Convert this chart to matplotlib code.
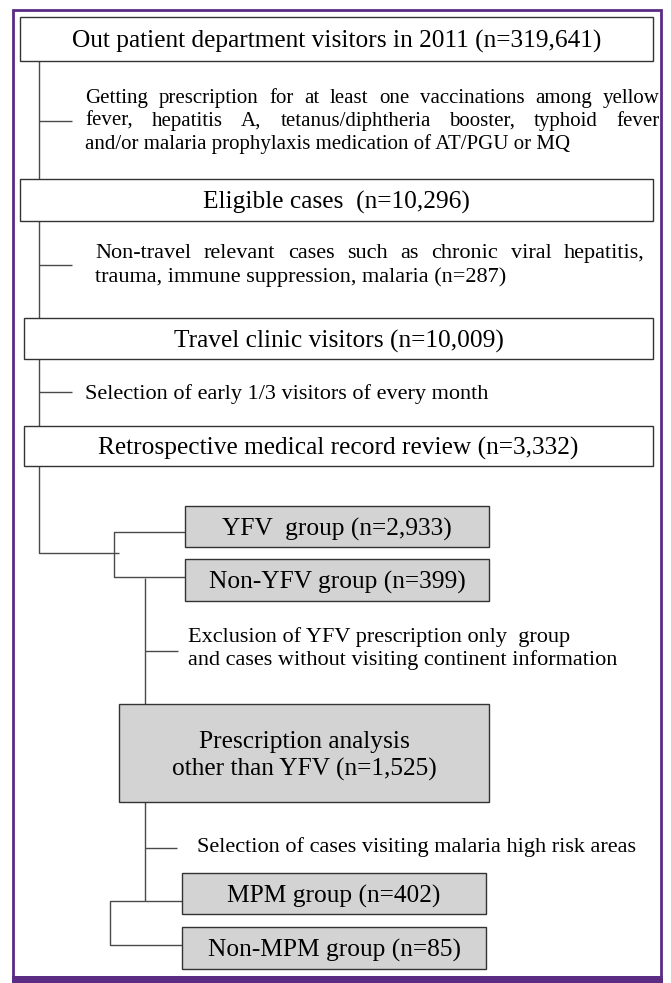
import numpy as np
import matplotlib
matplotlib.use('Agg')
import matplotlib.pyplot as plt
from matplotlib.patches import Rectangle

plt.rcParams['font.family'] = ['Liberation Serif', 'DejaVu Serif']

# ---- flowchart content ----
main_labels = ['Out patient department visitors in 2011 (n=319,641)',
               'Eligible cases  (n=10,296)',
               'Travel clinic visitors (n=10,009)',
               'Retrospective medical record review (n=3,332)']
yfv_labels = ['YFV  group (n=2,933)', 'Non-YFV group (n=399)']
analysis_label = ['Prescription analysis', 'other than YFV (n=1,525)']
mpm_labels = ['MPM group (n=402)', 'Non-MPM group (n=85)']

note1 = ['Getting prescription for at least one vaccinations among yellow',
         'fever, hepatitis A, tetanus/diphtheria booster, typhoid fever',
         'and/or malaria prophylaxis medication of AT/PGU or MQ']
note2 = ['Non-travel relevant cases such as chronic viral hepatitis,',
         'trauma, immune suppression, malaria (n=287)']
note3 = ['Selection of early 1/3 visitors of every month']
note4 = ['Exclusion of YFV prescription only  group',
         'and cases without visiting continent information']
note5 = ['Selection of cases visiting malaria high risk areas']

W, H = 671, 983
fig = plt.figure(figsize=(W/100, H/100), dpi=100)
ax = fig.add_axes([0, 0, 1, 1])
ax.set_xlim(0, W)
ax.set_ylim(H, 0)
ax.axis('off')
r = fig.canvas.get_renderer()

line_c = '#4a4a4a'
edge_c = '#333333'
gray = '#d3d3d3'
purple = '#5b2c83'
box_fs = 18.3


def box(x0, y0, x1, y1, lines, fill='white', cx=None):
    ax.add_patch(Rectangle((x0, y0), x1-x0, y1-y0, fc=fill, ec=edge_c, lw=1.0, zorder=2))
    cx = (x0+x1)/2 if cx is None else cx
    n = len(lines)
    step = 27
    for i, s in enumerate(lines):
        yy = (y0+y1)/2 + (i - (n-1)/2)*step
        ax.text(cx, yy, s, ha='center', va='center_baseline', fontsize=box_fs, zorder=3)


def seg(xs, ys):
    ax.plot(xs, ys, color=line_c, lw=1.0, solid_capstyle='butt', zorder=1)


def note(lines, x0, x1, y0, step, fs=16, justify=True):
    sp = ax.text(0, 0, 'a a', fontsize=fs)
    sp_w = sp.get_window_extent(r).width
    sp.set_text('aa')
    sp_w -= sp.get_window_extent(r).width
    sp.remove()
    for i, s in enumerate(lines):
        yy = y0 + i*step
        last = (i == len(lines)-1)
        if not justify or last:
            ax.text(x0, yy, s, ha='left', va='center_baseline', fontsize=fs)
            continue
        words = s.split()
        ts = [ax.text(0, yy, w, ha='left', va='center_baseline', fontsize=fs) for w in words]
        ws = [t.get_window_extent(r).width for t in ts]
        gap = max((x1 - x0 - sum(ws)) / (len(words)-1), sp_w * 0.8)
        x = x0
        for t, w in zip(ts, ws):
            t.set_x(x)
            x += w + gap


# purple frame
ax.add_patch(Rectangle((13, 10), 648, 968, fc='none', ec=purple, lw=2.0, zorder=5))
ax.add_patch(Rectangle((11.5, 975.5), 651, 8, fc=purple, ec='none', zorder=5))

# main column
main_rects = [(20, 17, 653, 61), (20, 179, 653, 221), (24, 318, 653, 359), (24, 426, 653, 466)]
for (x0, y0, x1, y1), lab in zip(main_rects, main_labels):
    box(x0, y0, x1, y1, [lab])

seg([39, 39], [61, 179]); seg([39, 72], [121, 121])
seg([39, 39], [221, 318]); seg([39, 72], [265, 265])
seg([39, 39], [359, 426]); seg([39, 72], [392, 392])
seg([39, 39, 119], [466, 553, 553])

note(note1, 85, 660, 96, 23, fs=15)
note(note2, 95, 645, 251, 24)
note(note3, 85, 660, 392, 0, justify=False)

# YFV split
seg([185, 114, 114, 185], [532, 532, 577, 577])
box(185, 506, 489, 547, [yfv_labels[0]], fill=gray)
box(185, 559, 489, 601, [yfv_labels[1]], fill=gray)

seg([145, 145], [578, 704]); seg([145, 178], [651, 651])
note(note4, 188, 660, 635, 23, justify=False)

box(119, 704, 489, 802, analysis_label, fill=gray)

seg([145, 145], [802, 901]); seg([145, 177], [848, 848])
note(note5, 197, 660, 845, 0, justify=False)

# MPM split
seg([182, 110, 110, 182], [901, 901, 945, 945])
box(182, 873, 486, 914, [mpm_labels[0]], fill=gray)
box(182, 927, 486, 969, [mpm_labels[1]], fill=gray)

fig.savefig('out.png', dpi=100, facecolor='white')
